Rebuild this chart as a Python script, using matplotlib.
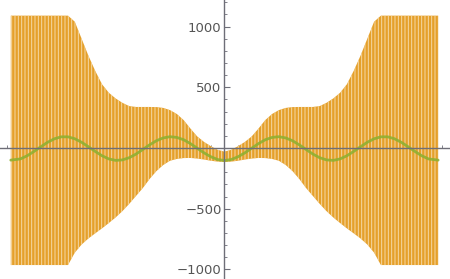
import matplotlib
matplotlib.use("Agg")
import matplotlib.pyplot as plt
import numpy as np

plt.rcParams['font.family'] = ['DejaVu Sans']
plt.rcParams['hatch.linewidth'] = 0.7

# envelope sample positions (x)
env_x = [-3.1416, -3.1, -3.0, -2.9, -2.8, -2.7, -2.6, -2.5, -2.4, -2.3, -2.2, -2.1, -2.0,
         -1.9, -1.8, -1.7, -1.6, -1.5, -1.4, -1.3, -1.2, -1.1, -1.0, -0.9, -0.8, -0.7,
         -0.6, -0.5, -0.4, -0.3, -0.2, -0.1, 0.0, 0.1, 0.2, 0.3, 0.4, 0.5, 0.6, 0.7,
         0.8, 0.9, 1.0, 1.1, 1.2, 1.3, 1.4, 1.5, 1.6, 1.7, 1.8, 1.9, 2.0, 2.1, 2.2,
         2.3, 2.4, 2.5, 2.6, 2.7, 2.8, 2.9, 3.0, 3.1, 3.1416]

# upper envelope of the fast-oscillating (orange) curve
orange_upper = [1090, 1090, 1090, 1090, 1090, 1090, 1090, 1090, 1090, 1090, 1040, 900, 760,
                635, 525, 455, 408, 372, 345, 338, 338, 338, 337, 330, 312, 280,
                230, 160, 95, 50, 15, -15, -30, -15, 15, 50, 95, 160, 230, 280,
                312, 330, 337, 338, 338, 338, 345, 372, 408, 455, 525, 635, 760, 900, 1040,
                1090, 1090, 1090, 1090, 1090, 1090, 1090, 1090, 1090, 1090]

# lower envelope of the fast-oscillating (orange) curve
orange_lower = [-964, -964, -964, -964, -964, -964, -964, -964, -964, -964, -862, -795, -745,
                -703, -662, -618, -572, -520, -460, -395, -330, -255, -190, -140, -105, -90,
                -83, -82, -87, -95, -105, -112, -115, -112, -105, -95, -87, -82, -83, -90,
                -105, -140, -190, -255, -330, -395, -460, -520, -572, -618, -662, -703, -745, -795, -862,
                -964, -964, -964, -964, -964, -964, -964, -964, -964, -964]

# slow (green) curve
green_y = [-100, -97, -90, -64, -28, 10, 47, 76, 92, 92, 76, 47, 10,
           -28, -64, -90, -102, -98, -80, -50, -12, 26, 60, 83, 93, 87,
           68, 36, -2, -40, -72, -95, -103, -95, -72, -40, -2, 36, 68, 87,
           93, 83, 60, 26, -12, -50, -80, -98, -102, -90, -64, -28, 10, 47, 76,
           92, 92, 76, 47, 10, -28, -64, -90, -97, -100]

xticks = [-3, -2, -1, 1, 2, 3]
yticks = [-1000, -500, 500, 1000]

fig = plt.figure(figsize=(4.5, 2.79), dpi=100)
ax = fig.add_axes([0, 0, 1, 1])

ax.fill_between(env_x, orange_lower, orange_upper, facecolor='#E5A02A',
                edgecolor='#F6D9A6', linewidth=0, hatch='|||||', zorder=2)
ax.plot(env_x, green_y, color='#8FB032', lw=2.0, alpha=0.9, zorder=3,
        solid_capstyle='round')

ax.set_xlim(-3.30, 3.316)
ax.set_ylim(-1079, 1219)

for s in ['top', 'right']:
    ax.spines[s].set_visible(False)
ax.spines['left'].set_position(('data', 0))
ax.spines['bottom'].set_position(('data', 0))
axis_col = '#6E6E78'
for s in ['left', 'bottom']:
    ax.spines[s].set_color(axis_col)
    ax.spines[s].set_linewidth(1.0)
    ax.spines[s].set_zorder(4)

ax.set_xticks(xticks)
ax.set_xticklabels([str(t).replace('-', '\u2212') for t in xticks])
ax.set_yticks(yticks)
ax.set_yticklabels([str(t).replace('-', '\u2212') for t in yticks])
ax.set_xticks(np.arange(-3.2, 3.3, 0.2), minor=True)
ax.set_yticks(np.arange(-1000, 1201, 100), minor=True)

ax.tick_params(axis='both', which='major', direction='in', length=4, width=0.8,
               color=axis_col, labelcolor='#555555', labelsize=9.5, pad=2)
ax.tick_params(axis='both', which='minor', direction='in', length=2.5, width=0.6,
               color=axis_col)
ax.patch.set_facecolor('white')

fig.savefig('out.png', dpi=100)
